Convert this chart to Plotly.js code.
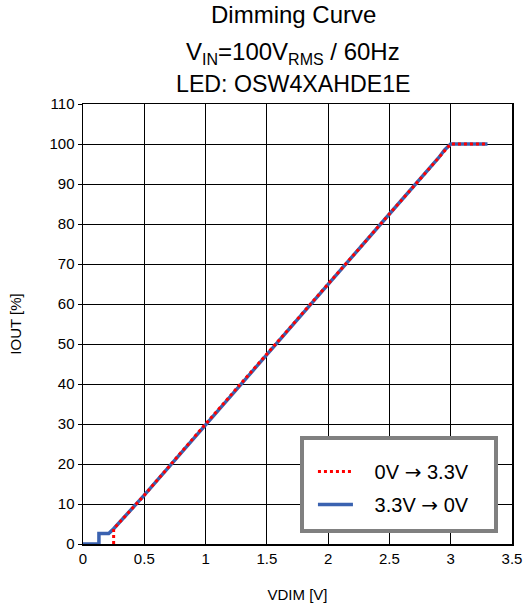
<!DOCTYPE html>
<html>
<head>
<meta charset="utf-8">
<script src="https://cdn.plot.ly/plotly-3.0.1.min.js"></script>
<style>html,body{margin:0;padding:0;background:#fff;}</style>
</head>
<body>
<div id="chart" style="width:527px;height:607px;"></div>
<script>
const titleLines = ["Dimming Curve",
  "V<sub><span style='font-size:16px'>IN</span></sub>=100V<sub><span style='font-size:16px'>RMS</span></sub> / 60Hz",
  "LED: OSW4XAHDE1E"];
const seriesNames = ["0V \u2192 3.3V", "3.3V \u2192 0V"];
const upX = [0.25, 0.25, 0.5, 1.0, 1.5, 2.0, 2.5, 2.9, 2.95, 3.0, 3.3];
const upY = [0, 3.8, 12.2, 30, 47.5, 65, 82.5, 96.5, 98.5, 100, 100];
const downX = [3.3, 3.0, 2.95, 2.9, 2.5, 2.0, 1.5, 1.0, 0.5, 0.25, 0.21, 0.13, 0.13, 0];
const downY = [100, 100, 98.5, 96.5, 82.5, 65, 47.5, 30, 12.2, 3.8, 2.6, 2.6, 0, 0];
const xTicks = [0, 0.5, 1, 1.5, 2, 2.5, 3, 3.5];
const yTicks = [0, 10, 20, 30, 40, 50, 60, 70, 80, 90, 100, 110];

const font = "Liberation Sans, Arial, sans-serif";
const arrowName = s => "\u00a0\u00a0\u00a0" + s.replace("\u2192", "<span style='font-family:DejaVu Sans'>\u2192</span>");
const data = [
  {x: downX, y: downY, name: arrowName(seriesNames[1]), mode: "lines", legend: "legend2",
   line: {color: "#3a62b0", width: 3.5}},
  {x: upX, y: upY, name: arrowName(seriesNames[0]), mode: "lines", legend: "legend",
   line: {color: "#ff0000", width: 3, dash: "dot"}}
];
const titleY = [1.2023, 1.116, 1.046];
const titleX = [0.49, 0.49, 0.49];
const titleSize = [24, 24, 23.2];
const legCommon = {xanchor: "left", yanchor: "middle", bgcolor: "rgba(0,0,0,0)",
  borderwidth: 0, font: {size: 20, family: font, color: "#000"}, itemwidth: 35};
const layout = {
  width: 527, height: 607,
  margin: {l: 83, r: 15, t: 104, b: 63},
  paper_bgcolor: "#fff", plot_bgcolor: "#fff",
  font: {family: font, color: "#000"},
  showlegend: true,
  legend: Object.assign({x: 0.536, y: 0.165}, legCommon),
  legend2: Object.assign({x: 0.536, y: 0.090}, legCommon),
  shapes: [{type: "rect", xref: "paper", yref: "paper",
    x0: 0.5105, x1: 0.9627, y0: 0.0295, y1: 0.2409,
    line: {color: "#808080", width: 4}, fillcolor: "#fff", layer: "above"}],
  xaxis: {range: [0, 3.5], tickvals: xTicks, ticktext: xTicks.map(String),
    showgrid: true, gridcolor: "#000", gridwidth: 1, zeroline: false,
    showline: true, linecolor: "#000", linewidth: 1.5, mirror: true,
    ticks: "", tickfont: {size: 15, family: font},
    title: {text: "VDIM [V]", font: {size: 15, family: font}, standoff: 24}},
  yaxis: {range: [0, 110], tickvals: yTicks, ticktext: yTicks.map(String),
    showgrid: true, gridcolor: "#000", gridwidth: 1, zeroline: false,
    showline: true, linecolor: "#000", linewidth: 1.5, mirror: true,
    ticks: "outside", ticklen: 4, tickcolor: "#000",
    tickfont: {size: 15, family: font},
    title: {text: "IOUT [%]", font: {size: 15, family: font}, standoff: 24}},
  annotations: titleLines.map((t, i) => ({
    text: t, xref: "paper", yref: "paper", x: titleX[i], y: titleY[i],
    xanchor: "center", yanchor: "middle", showarrow: false,
    font: {size: titleSize[i], family: font, color: "#000"}
  }))
};
Plotly.newPlot("chart", data, layout, {displayModeBar: false, staticPlot: true});
</script>
</body>
</html>
